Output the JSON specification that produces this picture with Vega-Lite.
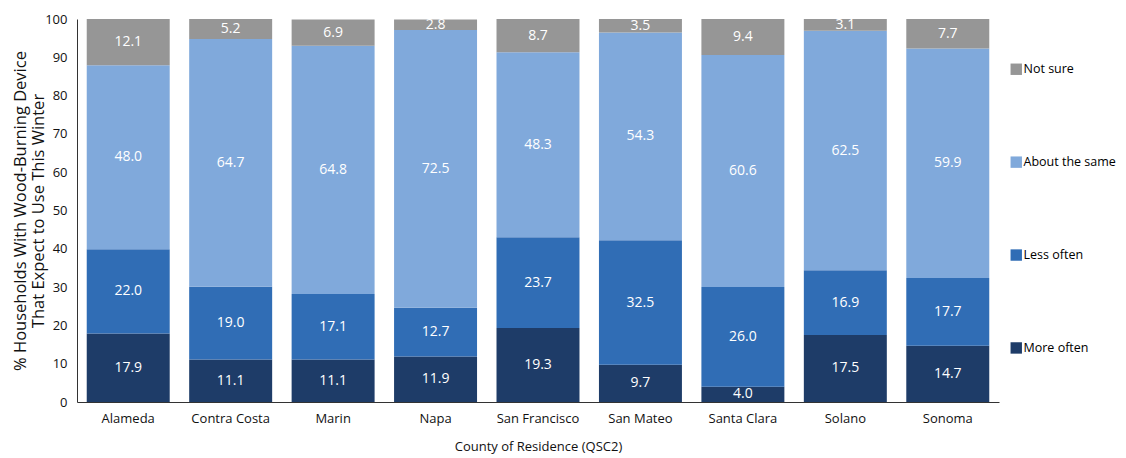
{
  "$schema": "https://vega.github.io/schema/vega-lite/v6.json",
  "width": 922,
  "height": 383,
  "autosize": {"type": "none"},
  "padding": {"left": 77, "top": 19, "right": 127, "bottom": 56},
  "background": "white",
  "config": {
    "view": {"stroke": null},
    "font": "Open Sans",
    "axis": {"labelFont": "Open Sans", "titleFont": "Open Sans", "titleFontWeight": "normal", "labelColor": "#111", "titleColor": "#111", "grid": false},
    "axisY": {"titleFontSize": 16.5, "titlePadding": -2, "labelFontSize": 13, "values": [0,10,20,30,40,50,60,70,80,90,100], "labelOverlap": false, "ticks": false, "labelPadding": 10, "domainColor": "#333", "titleLineHeight": 18},
    "legend": {"labelFont": "Open Sans"}
  },
  "data": {"values": [
    {"county": "Alameda", "resp": "More often", "k": 1, "v": 17.9},
    {"county": "Alameda", "resp": "Less often", "k": 2, "v": 22.0},
    {"county": "Alameda", "resp": "About the same", "k": 3, "v": 48.0},
    {"county": "Alameda", "resp": "Not sure", "k": 4, "v": 12.1},
    {"county": "Contra Costa", "resp": "More often", "k": 1, "v": 11.1},
    {"county": "Contra Costa", "resp": "Less often", "k": 2, "v": 19.0},
    {"county": "Contra Costa", "resp": "About the same", "k": 3, "v": 64.7},
    {"county": "Contra Costa", "resp": "Not sure", "k": 4, "v": 5.2},
    {"county": "Marin", "resp": "More often", "k": 1, "v": 11.1},
    {"county": "Marin", "resp": "Less often", "k": 2, "v": 17.1},
    {"county": "Marin", "resp": "About the same", "k": 3, "v": 64.8},
    {"county": "Marin", "resp": "Not sure", "k": 4, "v": 6.9},
    {"county": "Napa", "resp": "More often", "k": 1, "v": 11.9},
    {"county": "Napa", "resp": "Less often", "k": 2, "v": 12.7},
    {"county": "Napa", "resp": "About the same", "k": 3, "v": 72.5},
    {"county": "Napa", "resp": "Not sure", "k": 4, "v": 2.8},
    {"county": "San Francisco", "resp": "More often", "k": 1, "v": 19.3},
    {"county": "San Francisco", "resp": "Less often", "k": 2, "v": 23.7},
    {"county": "San Francisco", "resp": "About the same", "k": 3, "v": 48.3},
    {"county": "San Francisco", "resp": "Not sure", "k": 4, "v": 8.7},
    {"county": "San Mateo", "resp": "More often", "k": 1, "v": 9.7},
    {"county": "San Mateo", "resp": "Less often", "k": 2, "v": 32.5},
    {"county": "San Mateo", "resp": "About the same", "k": 3, "v": 54.3},
    {"county": "San Mateo", "resp": "Not sure", "k": 4, "v": 3.5},
    {"county": "Santa Clara", "resp": "More often", "k": 1, "v": 4.0},
    {"county": "Santa Clara", "resp": "Less often", "k": 2, "v": 26.0},
    {"county": "Santa Clara", "resp": "About the same", "k": 3, "v": 60.6},
    {"county": "Santa Clara", "resp": "Not sure", "k": 4, "v": 9.4},
    {"county": "Solano", "resp": "More often", "k": 1, "v": 17.5},
    {"county": "Solano", "resp": "Less often", "k": 2, "v": 16.9},
    {"county": "Solano", "resp": "About the same", "k": 3, "v": 62.5},
    {"county": "Solano", "resp": "Not sure", "k": 4, "v": 3.1},
    {"county": "Sonoma", "resp": "More often", "k": 1, "v": 14.7},
    {"county": "Sonoma", "resp": "Less often", "k": 2, "v": 17.7},
    {"county": "Sonoma", "resp": "About the same", "k": 3, "v": 59.9},
    {"county": "Sonoma", "resp": "Not sure", "k": 4, "v": 7.7}
  ]},
  "transform": [
    {"stack": "v", "groupby": ["county"], "sort": [{"field": "k", "order": "ascending"}], "as": ["y0", "y1"]},
    {"calculate": "(datum.y0 + datum.y1) / 2", "as": "ym"}
  ],
  "encoding": {
    "x": {
      "field": "county", "type": "nominal", "sort": null,
      "scale": {"paddingInner": 0.19, "paddingOuter": 0.095},
      "axis": {"title": "County of Residence (QSC2)", "labelAngle": 0, "labelFontSize": 13, "titleFontSize": 13, "ticks": false, "labelPadding": 10, "titlePadding": 15, "domainColor": "#333", "domainWidth": 1}
    }
  },
  "layer": [
    {
      "mark": {"type": "bar", "stroke": null},
      "encoding": {
        "y": {
          "field": "y0", "type": "quantitative",
          "scale": {"domain": [0, 100], "nice": false},
          "axis": {"title": ["% Households With Wood-Burning Device", "That Expect to Use This Winter"], "values": [0,10,20,30,40,50,60,70,80,90,100]}
        },
        "y2": {"field": "y1"},
        "color": {
          "field": "resp", "type": "nominal",
          "scale": {"domain": ["Not sure", "About the same", "Less often", "More often"], "range": ["#969696", "#80a9db", "#306db5", "#1e3c68"]},
          "legend": {"title": null, "orient": "none", "legendX": 933, "legendY": 44, "symbolType": "square", "symbolSize": 130, "symbolStrokeWidth": 0, "symbolOpacity": 1, "labelFontSize": 12.5, "rowPadding": 79.9, "labelOffset": 1}
        }
      }
    },
    {
      "mark": {"type": "text", "color": "white", "fontSize": 14, "baseline": "middle", "align": "center"},
      "encoding": {
        "y": {"field": "ym", "type": "quantitative", "axis": {"title": ["% Households With Wood-Burning Device", "That Expect to Use This Winter"], "values": [0,10,20,30,40,50,60,70,80,90,100]}},
        "text": {"field": "v", "type": "quantitative", "format": ".1f"}
      }
    }
  ]
}
